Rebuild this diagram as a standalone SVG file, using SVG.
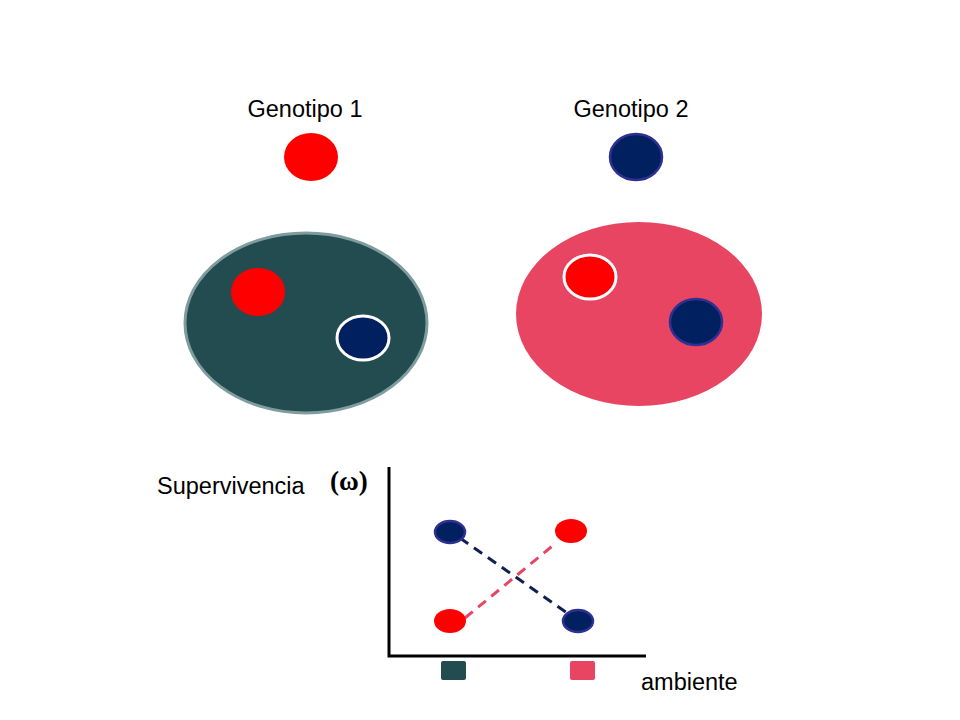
<svg xmlns="http://www.w3.org/2000/svg" width="960" height="720" viewBox="0 0 960 720">
<style>
text{font-family:"Liberation Sans",Arial,sans-serif;font-size:23.5px;fill:#000}
.red{fill:#ff0000}
.navy{fill:#002060;stroke:#2e3192;stroke-width:2.5}
.wred{fill:#ff0000;stroke:#fff;stroke-width:3}
.wnavy{fill:#002060;stroke:#fff;stroke-width:3}
</style>
<rect width="960" height="720" fill="#fff"/>
<g id="genotipo1">
<text x="305" y="117" text-anchor="middle">Genotipo 1</text>
<ellipse class="red" cx="311" cy="157" rx="27" ry="24"/>
</g>
<g id="genotipo2">
<text x="631" y="117" text-anchor="middle">Genotipo 2</text>
<ellipse class="navy" cx="636" cy="157" rx="26" ry="23"/>
</g>
<g id="ambiente1">
<ellipse cx="306" cy="323" rx="121" ry="90" fill="#224c50" stroke="#7f9c9e" stroke-width="3"/>
<ellipse class="red" cx="258" cy="292" rx="27" ry="24"/>
<ellipse class="wnavy" cx="363" cy="338" rx="26" ry="22"/>
</g>
<g id="ambiente2">
<ellipse cx="639" cy="314" rx="123" ry="92" fill="#e84562"/>
<ellipse class="wred" cx="590" cy="277" rx="26" ry="22"/>
<ellipse class="navy" cx="696" cy="322" rx="26" ry="23"/>
</g>
<g id="connectors">
<path d="M389 467V656H646" fill="none" stroke="#000" stroke-width="3"/>
<line x1="460" y1="538" x2="570" y2="615" stroke="#0e2050" stroke-width="3" stroke-dasharray="10,7"/>
<line x1="465" y1="618" x2="556" y2="543" stroke="#e84562" stroke-width="3" stroke-dasharray="10,7"/>
</g>
<g id="grafico">
<text x="157" y="494">Supervivencia</text>
<text x="330" y="490" font-weight="bold" style="font-family:'Liberation Serif',serif;font-size:27px">(ω)</text>
<ellipse class="navy" cx="450" cy="532" rx="15" ry="11"/>
<ellipse class="navy" cx="578" cy="621" rx="15" ry="11"/>
<ellipse class="red" cx="571" cy="531" rx="16" ry="12"/>
<ellipse class="red" cx="450" cy="621" rx="16" ry="12"/>
<rect x="441" y="661" width="25" height="19" rx="2" fill="#224c50"/>
<rect x="570" y="661" width="25" height="19" rx="2" fill="#e84562"/>
<text x="641" y="690">ambiente</text>
</g>
</svg>
